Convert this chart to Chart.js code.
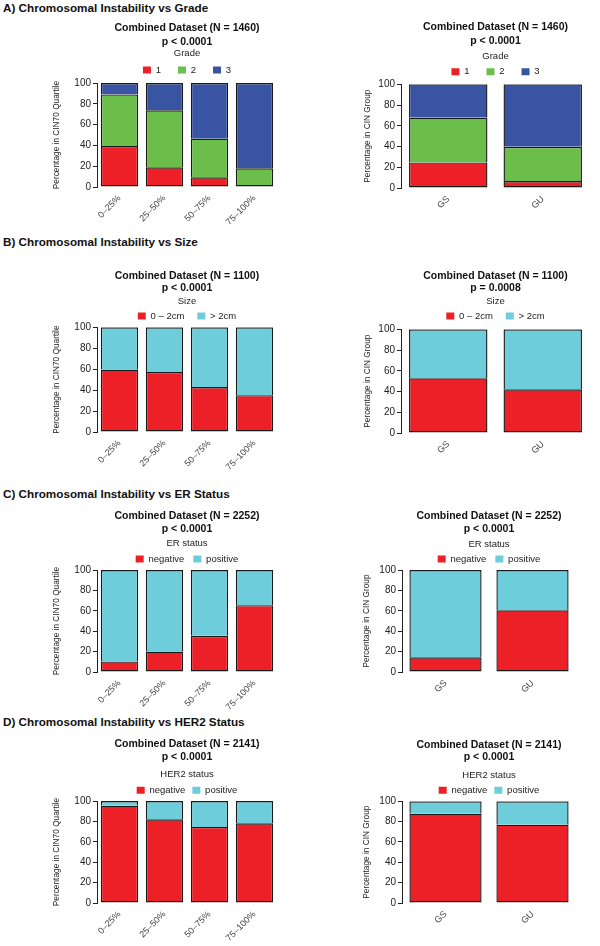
<!DOCTYPE html>
<html>
<head>
<meta charset="utf-8">
<script src="https://cdn.jsdelivr.net/npm/chart.js@4.4.1/dist/chart.umd.min.js"></script>
<style>
    body { margin: 0; width: 600px; height: 946px; background: #fff; position: relative; overflow: hidden;
           font-family: "Liberation Sans", Arial, sans-serif; }
    .encabezado { position: absolute; left: 3px; font-size: 11.7px; line-height: 14px; font-weight: bold; color: #111; white-space: nowrap; }
</style>
</head>
<body>
<div class="encabezado" style="top:1px">A) Chromosomal Instability vs Grade</div>
<div class="encabezado" style="top:235px">B) Chromosomal Instability vs Size</div>
<div class="encabezado" style="top:487px">C) Chromosomal Instability vs ER Status</div>
<div class="encabezado" style="top:715px">D) Chromosomal Instability vs HER2 Status</div>

<script>
// categorias
const quartileLabels = ['0–25%', '25–50%', '50–75%', '75–100%'];
const groupLabels = ['GS', 'GU'];

// A) grado
const gradeNames = ['1', '2', '3'];
const gradeQuartile1 = [39.4, 19.0, 9.3, 2.0];
const gradeQuartile2 = [49.6, 54.7, 37.2, 16.0];
const gradeQuartile3 = [11.0, 26.3, 53.5, 82.0];
const gradeGroup1 = [24.7, 6.7];
const gradeGroup2 = [43.3, 33.0];
const gradeGroup3 = [32.0, 60.3];

// B) tamaño
const sizeNames = ['0 – 2cm', '> 2cm'];
const sizeQuartileSmall = [59.7, 57.4, 42.9, 35.2];
const sizeQuartileLarge = [40.3, 42.6, 57.1, 64.8];
const sizeGroupSmall = [52.7, 42.1];
const sizeGroupLarge = [47.3, 57.9];

// C) ER
const statusNames = ['negative', 'positive'];
const erQuartileNeg = [10.4, 20.1, 35.5, 65.5];
const erQuartilePos = [89.6, 79.9, 64.5, 34.5];
const erGroupNeg = [14.4, 60.5];
const erGroupPos = [85.6, 39.5];

// D) HER2
const her2QuartileNeg = [95.4, 82.1, 74.6, 78.2];
const her2QuartilePos = [4.6, 17.9, 25.4, 21.8];
const her2GroupNeg = [87.8, 77.0];
const her2GroupPos = [12.2, 23.0];

const rojo = '#ED2027', verde = '#6CBE4B', azul = '#3A54A4', celeste = '#6DCDDB';

Chart.defaults.font.family = '"Liberation Sans", Arial, sans-serif';
Chart.defaults.color = '#222';

const yQuartil = 'Percentage in CIN70 Quartile';
const yGrupo = 'Percentage in CIN Group';

// posiciones medidas sobre la figura (centro del titulo, p, titulo de leyenda, leyenda, area)
const paneles = [
    { labels: quartileLabels, names: gradeNames, series: [gradeQuartile1, gradeQuartile2, gradeQuartile3], colors: [rojo, verde, azul],
      title: 'Combined Dataset (N = 1460)', sub: 'p < 0.0001', legendTitle: 'Grade', yTitle: yQuartil,
      x: 47, w: 230, yPad: 5, gap: 17, T: 28, P: 42, G: 53.3, L: 70, top: 83, bot: 187.3 },
    { labels: groupLabels, names: gradeNames, series: [gradeGroup1, gradeGroup2, gradeGroup3], colors: [rojo, verde, azul],
      title: 'Combined Dataset (N = 1460)', sub: 'p < 0.0001', legendTitle: 'Grade', yTitle: yGrupo,
      x: 351, w: 239, yPad: 12, gap: 17, T: 27.3, P: 40.7, G: 56, L: 71.7, top: 84.3, bot: 187.7 },
    { labels: quartileLabels, names: sizeNames, series: [sizeQuartileSmall, sizeQuartileLarge], colors: [rojo, celeste],
      title: 'Combined Dataset (N = 1100)', sub: 'p < 0.0001', legendTitle: 'Size', yTitle: yQuartil,
      x: 47, w: 230, yPad: 5, gap: 13, T: 275.7, P: 288.3, G: 301.7, L: 316, top: 327.3, bot: 431.7 },
    { labels: groupLabels, names: sizeNames, series: [sizeGroupSmall, sizeGroupLarge], colors: [rojo, celeste],
      title: 'Combined Dataset (N = 1100)', sub: 'p = 0.0008', legendTitle: 'Size', yTitle: yGrupo,
      x: 351, w: 239, yPad: 12, gap: 13, T: 276, P: 288.3, G: 301, L: 316, top: 329.3, bot: 433 },
    { labels: quartileLabels, names: statusNames, series: [erQuartileNeg, erQuartilePos], colors: [rojo, celeste],
      title: 'Combined Dataset (N = 2252)', sub: 'p < 0.0001', legendTitle: 'ER status', yTitle: yQuartil,
      x: 47, w: 230, yPad: 5, gap: 9, T: 516, P: 529, G: 543, L: 559, top: 570, bot: 672.3 },
    { labels: groupLabels, names: statusNames, series: [erGroupNeg, erGroupPos], colors: [rojo, celeste],
      title: 'Combined Dataset (N = 2252)', sub: 'p < 0.0001', legendTitle: 'ER status', yTitle: yGrupo,
      x: 352, w: 224, yPad: 9.7, gap: 9, T: 516, P: 529.3, G: 544, L: 559, top: 570, bot: 672 },
    { labels: quartileLabels, names: statusNames, series: [her2QuartileNeg, her2QuartilePos], colors: [rojo, celeste],
      title: 'Combined Dataset (N = 2141)', sub: 'p < 0.0001', legendTitle: 'HER2 status', yTitle: yQuartil,
      x: 47, w: 230, yPad: 5, gap: 7, T: 744.3, P: 757, G: 774.3, L: 790.3, top: 801, bot: 903.3 },
    { labels: groupLabels, names: statusNames, series: [her2GroupNeg, her2GroupPos], colors: [rojo, celeste],
      title: 'Combined Dataset (N = 2141)', sub: 'p < 0.0001', legendTitle: 'HER2 status', yTitle: yGrupo,
      x: 352, w: 224, yPad: 9.7, gap: 7, T: 744.7, P: 757, G: 775, L: 790.3, top: 801.3, bot: 903.3 }
];

function dibujarPanel(p) {
    const canvasTop = Math.round(p.T - 8.3);
    const alto = Math.round(p.bot + 45 - canvasTop);
    const caja = document.createElement('div');
    caja.style.cssText = `position:absolute;left:${p.x}px;top:${canvasTop}px;width:${p.w}px;height:${alto}px`;
    const cv = document.createElement('canvas');
    caja.appendChild(cv);
    document.body.appendChild(caja);

    const titleTop = p.T - canvasTop - 6.3;
    const legendTop = p.P + 6.3;
    const tPadTop = p.G - legendTop - 4.75;
    const tPadBottom = p.L - legendTop - p.gap - 11.4 - tPadTop - 4.75;

    new Chart(cv, {
        type: 'bar',
        data: {
            labels: p.labels,
            datasets: p.series.map((s, i) => ({
                label: p.names[i],
                data: s,
                backgroundColor: p.colors[i],
                borderColor: '#1a1a1a',
                borderWidth: 1.4,
                // solo la primera serie dibuja el borde inferior, asi no se duplica la linea entre segmentos
                borderSkipped: i === 0 ? false : 'start',
                inflateAmount: 0,
                barPercentage: 0.83,
                categoryPercentage: 1
            }))
        },
        options: {
            responsive: true,
            maintainAspectRatio: false,
            animation: false,
            layout: { padding: 0 },
            plugins: {
                title: { display: true, text: p.title, fullSize: false, color: '#111',
                         font: { size: 10.5, weight: 'bold', lineHeight: 1.2 }, padding: { top: titleTop, bottom: 0 } },
                subtitle: { display: true, text: p.sub, fullSize: false, color: '#111',
                            font: { size: 10.5, weight: 'bold', lineHeight: 1.2 }, padding: { top: p.P - p.T - 12.6, bottom: 0 } },
                legend: {
                    fullSize: false,
                    maxHeight: p.top - legendTop,
                    labels: {
                        boxWidth: 8, boxHeight: 7, padding: p.gap, color: '#222',
                        font: { size: 9.5, lineHeight: 1.2 },
                        generateLabels: chart => Chart.defaults.plugins.legend.labels.generateLabels(chart)
                            .map(l => ({ ...l, lineWidth: 0 }))
                    },
                    title: { display: true, text: p.legendTitle, color: '#222',
                             font: { size: 9.5, lineHeight: 1.2 }, padding: { top: tPadTop, bottom: tPadBottom } }
                },
                tooltip: { enabled: false }
            },
            scales: {
                x: {
                    stacked: true,
                    grid: { display: false, drawTicks: false },
                    border: { display: false },
                    ticks: { color: '#444', font: { size: 9 }, minRotation: 45, maxRotation: 45, padding: 6 },
                    afterFit: s => { s.height = 45; }
                },
                y: {
                    stacked: true,
                    min: 0,
                    max: 100,
                    ticks: { stepSize: 20, color: '#222', font: { size: 10 }, padding: 2 },
                    grid: { drawOnChartArea: false, drawTicks: true, tickLength: 4, color: '#222' },
                    border: { display: true, color: '#222' },
                    title: { display: true, text: p.yTitle, color: '#222', font: { size: 8.3 },
                             padding: { top: p.yPad, bottom: 0 } },
                    afterFit: s => { s.width = 50; }
                }
            }
        }
    });
}

paneles.forEach(dibujarPanel);
</script>
</body>
</html>
